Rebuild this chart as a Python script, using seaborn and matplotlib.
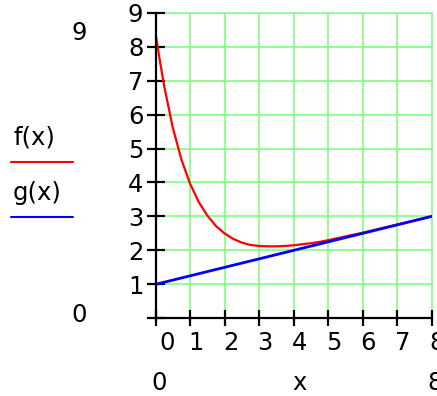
import matplotlib
matplotlib.use("Agg")
import matplotlib.pyplot as plt
import matplotlib.transforms as mtransforms
from matplotlib.lines import Line2D
import seaborn as sns
import pandas as pd

# curve values
X_F = [0, 0.1, 0.25, 0.5, 0.75, 1.0, 1.25, 1.5, 1.75, 2.0, 2.25, 2.5, 2.75,
       3.0, 3.25, 3.5, 3.75, 4.0, 4.25, 4.5, 4.75, 5.0, 5.5, 6.0, 6.5, 7.0,
       7.5, 8.0]
F_VALS = [8.40, 7.75, 6.85, 5.62, 4.68, 3.97, 3.43, 3.03, 2.72, 2.50, 2.34,
          2.23, 2.16, 2.13, 2.12, 2.12, 2.13, 2.15, 2.18, 2.21, 2.25, 2.30,
          2.41, 2.52, 2.64, 2.76, 2.88, 3.00]
X_G = [0, 1, 2, 3, 4, 5, 6, 7, 8]
G_VALS = [1.00, 1.25, 1.50, 1.75, 2.00, 2.25, 2.50, 2.75, 3.00]

X_TICKS = [0, 1, 2, 3, 4, 5, 6, 7, 8]
Y_TICKS = [0, 1, 2, 3, 4, 5, 6, 7, 8, 9]
Y_TICK_LABELS = ["", "1", "2", "3", "4", "5", "6", "7", "8", "9"]

W, H = 437, 396
FS = 17.5

sns.set_style("white")
plt.rcParams["font.family"] = ["DejaVu Sans"]
plt.rcParams["text.color"] = "black"


def px(x, y):
    return x / W, 1 - y / H


fig = plt.figure(figsize=(W / 100, H / 100), dpi=100)
ax = fig.add_axes([155.5 / W, 1 - 318.3 / H, 276 / W, 305.6 / H])

df_f = pd.DataFrame({"x": X_F, "y": F_VALS})
df_g = pd.DataFrame({"x": X_G, "y": G_VALS})
sns.lineplot(data=df_f, x="x", y="y", color="#ff0000", linewidth=1.6, ax=ax)
sns.lineplot(data=df_g, x="x", y="y", color="#0000ff", linewidth=2.0, ax=ax)

ax.set_xlim(0, 8)
ax.set_ylim(0, 9)
ax.set_xticks(X_TICKS)
ax.set_xticklabels([str(t) for t in X_TICKS])
ax.set_yticks(Y_TICKS)
ax.set_yticklabels(Y_TICK_LABELS)
ax.set_xlabel("")
ax.set_ylabel("")

ax.set_axisbelow(True)
ax.grid(True, color="#80ff80", linewidth=1.2)
for gl in ax.get_xgridlines() + ax.get_ygridlines():
    gl.set_clip_on(False)

for side in ("top", "right"):
    ax.spines[side].set_visible(False)
for side in ("left", "bottom"):
    ax.spines[side].set_color("black")
    ax.spines[side].set_linewidth(1.6)
    ax.spines[side].set_zorder(5)

ax.tick_params(axis="x", bottom=True, direction="inout", length=12, width=1.6,
               color="black", labelsize=FS, pad=3.5, labelcolor="black")
ax.tick_params(axis="y", left=True, direction="inout", length=13.5, width=1.6,
               color="black", labelsize=FS, pad=2, labelcolor="black")

# shift x tick labels a little to the right, like the original
for i, lab in enumerate(ax.get_xticklabels()):
    dx = 12 if i == 0 else 6
    lab.set_transform(lab.get_transform() +
                      mtransforms.ScaledTranslation(dx / 100, 0, fig.dpi_scale_trans))

# left legend and range labels
fig.text(*px(79.5, 40), "9", fontsize=FS, ha="center", va="baseline", color="black")
fig.text(*px(79.5, 321.5), "0", fontsize=FS, ha="center", va="baseline", color="black")
fig.text(*px(13, 145), "f(x)", fontsize=FS, ha="left", va="baseline", color="black")
fig.text(*px(13, 200), "g(x)", fontsize=FS, ha="left", va="baseline", color="black")
fig.add_artist(Line2D([11 / W, 73 / W], [1 - 162.3 / H] * 2,
                      color="#ff0000", linewidth=1.5))
fig.add_artist(Line2D([11 / W, 73 / W], [1 - 216.7 / H] * 2,
                      color="#0000ff", linewidth=1.5))

# bottom range labels
fig.text(*px(159.5, 395.5), "0", fontsize=FS, ha="center", va="bottom", color="black")
fig.text(*px(299, 395.5), "x", fontsize=FS, ha="center", va="bottom", color="black")
fig.text(*px(427, 395.5), "8", fontsize=FS, ha="left", va="bottom", color="black")

fig.savefig("out.png", dpi=100)
